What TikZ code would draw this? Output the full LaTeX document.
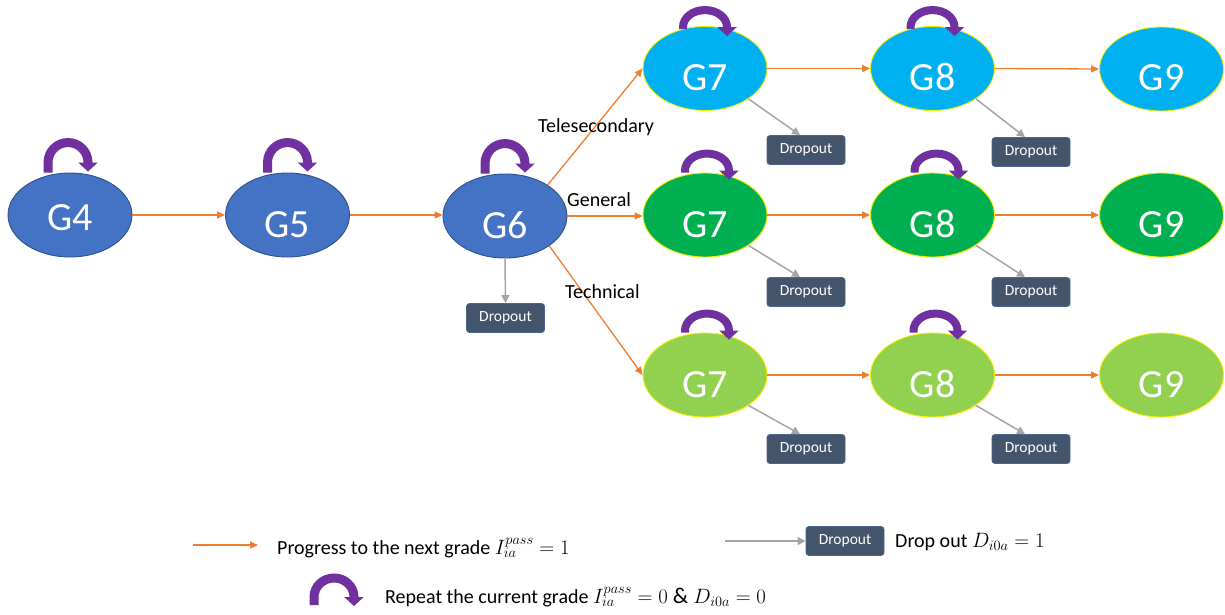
\documentclass[tikz,border=0pt]{standalone}
\usepackage{fontspec}
\setmainfont{Carlito}
\usetikzlibrary{arrows.meta,shapes.geometric}

\definecolor{gblue}{HTML}{4472C4}
\definecolor{gblueline}{HTML}{2F528F}
\definecolor{gcyan}{HTML}{00B0F0}
\definecolor{ggreen}{HTML}{00B050}
\definecolor{glime}{HTML}{92D050}
\definecolor{rimyellow}{HTML}{F2F200}
\definecolor{passorange}{HTML}{ED7D31}
\definecolor{dropgray}{HTML}{A5A5A5}
\definecolor{dropfill}{HTML}{44546A}
\definecolor{dropline}{HTML}{4A6690}
\definecolor{repeatpurple}{HTML}{7030A0}

\tikzset{
  grade/.style={ellipse, minimum width=124pt, minimum height=84pt, inner sep=0pt,
    text=white, font=\fontsize{40}{40}\selectfont, text height=44pt, text depth=0pt},
  bluegrade/.style={grade, fill=gblue, draw=gblueline, line width=0.9pt},
  cyangrade/.style={grade, fill=gcyan, draw=rimyellow, line width=0.9pt},
  greengrade/.style={grade, fill=ggreen, draw=rimyellow, line width=0.9pt},
  limegrade/.style={grade, fill=glime, draw=rimyellow, line width=0.9pt},
  dropbox/.style={rectangle, rounded corners=3pt, fill=dropfill, draw=dropline, line width=0.8pt,
    minimum width=78pt, minimum height=29pt, inner sep=0pt, text=white,
    font=\fontsize{15.5}{16}\selectfont},
  passarrow/.style={draw=passorange, line width=1.3pt, -{Triangle[length=8pt,width=7pt]}},
  droparrow/.style={draw=dropgray, line width=1.5pt, -{Triangle[length=8pt,width=8pt]}},
  repeatarrow/.style={draw=repeatpurple, -{Triangle[length=9pt,width=19pt]}},
  branchlabel/.style={anchor=base west, inner sep=0pt, font=\fontsize{20}{24}\selectfont},
  keytext/.style={anchor=base west, inner sep=0pt, font=\fontsize{20}{24}\selectfont},
}

% formulas in the key are set a little larger than the words around them
\newcommand\keymath[1]{{\fontsize{22.5}{24}\selectfont$#1$}}

% curved "repeat" arrow over a point:
% #1 point, #2 x offset, #3 y offset, #4 x radius, #5 y radius, #6 stem, #7 line width
\newcommand\repeatmark[7]{%
  \draw[repeatarrow, line width=#7] ([xshift=#2pt-#4pt, yshift=#3pt]#1) -- ++(0,-#6)
    arc[start angle=180, end angle=360, x radius=#4, y radius=#5] -- ++(0,9);
}

\begin{document}
\begin{tikzpicture}[x=1pt, y=-1pt]
\useasboundingbox (0,0) rectangle (1225,615);

% grades 4 to 6
\node[bluegrade, text height=30pt] (g4) at (70,215) {G4};
\node[bluegrade] (g5) at (287.5,215) {G5};
\node[bluegrade] (g6) at (505,216) {G6};

% telesecondary track
\node[cyangrade] (g7t) at (705,68.5) {G7};
\node[cyangrade] (g8t) at (932.5,68.5) {G8};
\node[cyangrade] (g9t) at (1161.5,69) {G9};
% general track
\node[greengrade] (g7m) at (705,215) {G7};
\node[greengrade] (g8m) at (932.5,215) {G8};
\node[greengrade] (g9m) at (1161.5,215) {G9};
% technical track
\node[limegrade] (g7b) at (705,375) {G7};
\node[limegrade] (g8b) at (932.5,375) {G8};
\node[limegrade] (g9b) at (1161.5,375) {G9};

% dropout boxes
\node[dropbox] (d6) at (505.5,318) {Dropout};
\node[dropbox] (d7t) at (806,150) {Dropout};
\node[dropbox] (d8t) at (1031,152) {Dropout};
\node[dropbox] (d7m) at (806,292) {Dropout};
\node[dropbox] (d8m) at (1031,292) {Dropout};
\node[dropbox] (d7b) at (806,449) {Dropout};
\node[dropbox] (d8b) at (1031,449) {Dropout};

% progression
\draw[passarrow] (g4.east) -- (g4.east -| g5.west);
\draw[passarrow] (g5.east) -- (g5.east -| g6.west);
\draw[passarrow] (g6.36) -- (g7t.west);
\draw[passarrow] (g6.east) -- (g6.east -| g7m.west);
\draw[passarrow] (g6.-34) -- (g7b.west);
\draw[passarrow] (g7t.east) -- (g8t.west);
\draw[passarrow] (g8t.east) -- (g9t.west);
\draw[passarrow] (g7m.east) -- (g8m.west);
\draw[passarrow] (g8m.east) -- (g9m.west);
\draw[passarrow] (g7b.east) -- (g8b.west);
\draw[passarrow] (g8b.east) -- (g9b.west);

% dropping out
\draw[droparrow] (g6.south) -- (d6.north);
\draw[droparrow] (g7t.-35) -- ([xshift=-6pt]d7t.north);
\draw[droparrow] (g8t.-35) -- ([xshift=-6pt]d8t.north);
\draw[droparrow] (g7m.-35) -- ([xshift=-6pt]d7m.north);
\draw[droparrow] (g8m.-35) -- ([xshift=-6pt]d8m.north);
\draw[droparrow] (g7b.-35) -- ([xshift=-6pt]d7b.north);
\draw[droparrow] (g8b.-35) -- ([xshift=-6pt]d8b.north);

% school type labels
\node[branchlabel] (ltele) at (538,132.5) {Telesecondary};
\node[branchlabel] (lgen) at (567,206) {General};
\node[branchlabel] (ltech) at (565,298) {Technical};

% repeating a grade
\repeatmark{g4.north}{-2}{0}{20}{20}{10}{9pt}
\repeatmark{g5.north}{0}{0}{20}{20}{10}{9pt}
\repeatmark{g6.north}{0}{0}{20}{20}{10}{9pt}
\repeatmark{g7t.north}{0}{-3}{22}{17}{2}{8pt}
\repeatmark{g8t.north}{0}{-3}{22}{17}{2}{8pt}
\repeatmark{g7m.north}{2}{0}{22}{17}{2}{8pt}
\repeatmark{g8m.north}{4}{0}{22}{17}{2}{8pt}
\repeatmark{g7b.north}{2}{0}{22}{17}{2}{8pt}
\repeatmark{g8b.north}{3}{0}{22}{17}{2}{8pt}

% key
\coordinate (passfrom) at (193,545);
\coordinate (passto) at (258,545);
\draw[passarrow] (passfrom) -- (passto);
\node[keytext] (passtext) at (277,554) {Progress to the next grade \keymath{I_{ia}^{pass}=1}};

\coordinate (repeatfoot) at (334,605);
\repeatmark{repeatfoot}{0}{0}{20}{19}{8}{9pt}
\node[keytext] (repeattext) at (385,603) {Repeat the current grade \keymath{I_{ia}^{pass}=0\ \&\ D_{i0a}=0}};

\node[dropbox] (dkey) at (845,541) {Dropout};
\coordinate (dropfrom) at (725,541);
\draw[droparrow] (dropfrom) -- (dkey.west);
\node[keytext] (droptext) at (895,547) {Drop out \keymath{D_{i0a}=1}};
\end{tikzpicture}
\end{document}
